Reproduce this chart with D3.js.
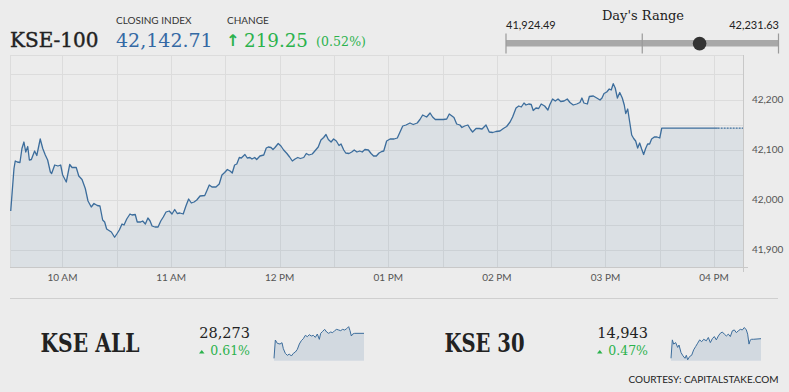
<!DOCTYPE html>
<html>
<head>
<meta charset="utf-8">
<script src="https://cdnjs.cloudflare.com/ajax/libs/d3/7.8.5/d3.min.js"></script>
<style>
  html, body { margin: 0; padding: 0; background: #ececec; }
  svg { display: block; }
  .serif { font-family: "DejaVu Serif", serif; }
  .sans { font-family: Lato, "Open Sans", sans-serif; }
</style>
</head>
<body>
<div id="chart"></div>
<script>
"use strict";

// --- DATA ---
// KSE-100 intraday, minutes after 09:30 and index value
const kseMin = [1.4, 3.2, 3.9, 5.0, 6.5, 7.6, 8.7, 9.7, 10.8, 11.7, 12.8, 14.6, 15.8, 17.7, 19.1, 20.5, 21.8, 23.3, 24.0, 25.7,
  27.5, 29.0, 30.1, 32.1, 34.0, 35.3, 37.6, 39.0, 40.8, 42.6, 44.1, 45.9, 47.4, 49.2, 50.7, 52.2, 53.3, 54.4, 57.0, 58.8,
  60.0, 61.4, 62.9, 64.0, 65.5, 67.3, 68.4, 70.2, 71.3, 73.2, 74.3, 75.8, 77.2, 78.4, 79.5, 81.1, 82.8, 84.3, 85.7, 87.2,
  89.0, 90.5, 92.0, 93.4, 94.9, 96.7, 98.2, 99.7, 101.2, 102.7, 104.2, 106.0, 108.6, 109.7, 111.1, 112.6, 114.8, 116.6, 118.1, 119.6,
  121.1, 122.6, 123.8, 125.1, 126.3, 127.7, 128.8, 130.8, 132.1, 133.6, 134.7, 136.2, 137.3, 139.1, 141.2, 142.6, 143.7, 145.2, 146.3, 147.4,
  149.2, 150.7, 152.2, 154.0, 155.5, 157.0, 158.5, 160.0, 161.4, 163.3, 164.7, 166.2, 168.0, 169.9, 171.3, 172.8, 174.3, 175.6, 176.9, 178.4,
  179.8, 181.3, 182.8, 183.9, 185.4, 186.5, 188.3, 189.8, 191.2, 192.7, 194.2, 195.6, 197.1, 199.0, 200.5, 201.9, 203.4, 204.9, 206.4, 207.5,
  209.1, 211.0, 213.2, 215.0, 216.5, 218.0, 219.8, 222.0, 223.8, 226.0, 227.5, 229.0, 231.2, 233.1, 234.5, 236.0, 238.2, 240.4, 242.3, 243.7,
  245.2, 246.3, 247.8, 249.6, 250.7, 252.2, 254.0, 255.5, 256.6, 258.5, 260.3, 261.8, 264.0, 265.8, 267.7, 269.5, 271.7, 273.6, 275.4, 277.3,
  278.7, 280.6, 282.1, 283.5, 285.0, 286.1, 287.6, 289.0, 290.1, 291.6, 293.1, 294.5, 296.4, 298.2, 299.3, 300.8, 302.3, 303.8, 305.3, 307.1,
  308.9, 310.4, 312.2, 314.1, 315.9, 317.0, 318.1, 320.0, 321.1, 323.3, 325.2, 327.0, 328.1, 329.2, 330.7, 332.1, 333.2, 334.3, 335.4, 336.6,
  337.9, 339.3, 340.4, 341.2, 342.3, 343.4, 344.5, 345.6, 346.7, 347.8, 348.9, 350.0, 351.1, 352.2, 353.3, 354.4, 355.5, 357.0, 358.5, 360.0,
  361.1, 392];
const kseVal = [41977, 42062, 42077, 42075, 42074, 42102, 42115, 42095, 42106, 42079, 42080, 42097, 42088, 42121, 42102, 42089, 42079, 42055, 42052, 42069,
  42067, 42069, 42049, 42035, 42070, 42064, 42064, 42047, 42040, 42022, 41997, 41985, 41992, 41988, 41987, 41959, 41955, 41941, 41935, 41924.49,
  41931, 41939, 41951, 41949, 41961, 41971, 41969, 41970, 41955, 41955, 41957, 41951, 41963, 41957, 41947, 41945, 41945, 41957, 41965, 41975,
  41977, 41971, 41980, 41972, 41973, 41971, 41987, 42001, 41993, 41995, 41999, 42007, 42008, 42017, 42029, 42025, 42025, 42031, 42049, 42054,
  42060, 42057, 42053, 42069, 42071, 42084, 42083, 42090, 42083, 42084, 42081, 42084, 42080, 42087, 42089, 42103, 42105, 42104, 42100, 42104,
  42112, 42107, 42099, 42092, 42085, 42077, 42081, 42084, 42082, 42084, 42092, 42089, 42091, 42099, 42105, 42119, 42124, 42130, 42120, 42115,
  42121, 42117, 42108, 42111, 42099, 42093, 42092, 42095, 42099, 42095, 42097, 42095, 42100, 42099, 42092, 42087, 42087, 42093, 42096, 42097,
  42117, 42121, 42121, 42123, 42135, 42147, 42149, 42153, 42150, 42153, 42160, 42169, 42165, 42173, 42165, 42160, 42160, 42160, 42161, 42171,
  42167, 42164, 42151, 42149, 42144, 42147, 42149, 42140, 42135, 42142, 42142, 42141, 42149, 42135, 42134, 42136, 42137, 42142, 42146, 42155,
  42165, 42183, 42187, 42185, 42193, 42189, 42191, 42190, 42178, 42183, 42182, 42191, 42187, 42179, 42190, 42201, 42197, 42201, 42196, 42197,
  42201, 42194, 42189, 42191, 42194, 42203, 42193, 42191, 42206, 42207, 42203, 42199, 42203, 42212, 42215, 42221, 42219, 42231.63, 42223, 42203,
  42214, 42203, 42189, 42172, 42181, 42155, 42129, 42122, 42117, 42103, 42113, 42101, 42090, 42102, 42111, 42111, 42121, 42125, 42125, 42123,
  42142.71, 42142.71];
// flat tail after the last trade (drawn dotted)
const tailMin = [392, 406];
const tailVal = [42142.71, 42142.71];

const yTicks = [41900, 41950, 42000, 42050, 42100, 42150, 42200, 42250];
const yLabels = [41900, 42000, 42100, 42200];

const header = { name: "KSE-100", close: "42,142.71", change: "219.25", pct: "(0.52%)" };
const dayRange = { low: 41924.49, high: 42231.63, close: 42142.71 };

// KSE ALL sparkline
const allMin = [1, 7, 16, 28, 37, 43, 52, 61, 70, 79, 88, 97, 106, 115, 124, 133, 142, 151, 160, 169, 178, 187, 196, 205, 211,
  220, 229, 238, 247, 256, 265, 274, 283, 292, 301, 310, 319, 328, 337, 343, 349, 355, 364, 406];
const allVal = [28123, 28233, 28213, 28209, 28217, 28181, 28153, 28141, 28149, 28137, 28153, 28161, 28177, 28209, 28229, 28241, 28261, 28253, 28265, 28257, 28261, 28249, 28269, 28237, 28273,
  28285, 28297, 28281, 28273, 28281, 28277, 28289, 28297, 28293, 28289, 28297, 28293, 28301, 28313, 28289, 28257, 28269, 28273, 28273];

// KSE 30 sparkline
const k30Min = [1, 7, 13, 22, 31, 37, 46, 55, 64, 70, 76, 85, 94, 103, 112, 121, 130, 139, 148, 160, 169, 178, 187, 196, 205,
  214, 223, 232, 241, 250, 259, 268, 277, 286, 295, 304, 313, 322, 331, 340, 346, 352, 358, 364, 373, 406];
const k30Val = [14878, 14939, 14925, 14930, 14914, 14922, 14897, 14886, 14878, 14888, 14873, 14884, 14888, 14906, 14917, 14928, 14939, 14933, 14941, 14936, 14947, 14930, 14943, 14950, 14939,
  14952, 14961, 14965, 14958, 14952, 14958, 14950, 14969, 14972, 14963, 14969, 14974, 14972, 14980, 14972, 14958, 14925, 14939, 14941, 14941, 14943];

const minis = [
  { name: "KSE ALL", value: "28,273", pct: "0.61%", mins: allMin, vals: allVal, domain: [28109, 28317] },
  { name: "KSE 30", value: "14,943", pct: "0.47%", mins: k30Min, vals: k30Val, domain: [14870, 14985] }
];

// --- LAYOUT ---
const W = 789, H = 392;
const P = { left: 10, right: 743, top: 55, bottom: 267 };
const C = { bg: "#ececec", grid: "#dcdcdc", axis: "#c8c8c8", line: "#3c6d9c", fill: "rgba(70,115,160,0.10)",
  text: "#222", label: "#555", blue: "#3469a4", green: "#2bb24c" };

const base = new Date(2019, 5, 3, 9, 30);
const toTime = m => new Date(base.getTime() + m * 60000);

const svg = d3.select("#chart").append("svg").attr("width", W).attr("height", H);
svg.append("rect").attr("width", W).attr("height", H).attr("fill", C.bg);

const x = d3.scaleTime().domain([toTime(1), toTime(406)]).range([P.left, P.right]);
const y = d3.scaleLinear().domain([41865, 42289]).range([P.bottom, P.top]);

// --- GRID ---
const grid = svg.append("g");
grid.selectAll(".hg").data(yTicks).enter().append("line")
  .attr("x1", P.left).attr("x2", P.right)
  .attr("y1", d => Math.round(y(d)) + 0.5).attr("y2", d => Math.round(y(d)) + 0.5)
  .attr("stroke", C.grid);

const halfHours = d3.timeMinute.every(30).range(toTime(30), toTime(407));
grid.selectAll(".vg").data(halfHours).enter().append("line")
  .attr("x1", d => Math.round(x(d)) + 0.5).attr("x2", d => Math.round(x(d)) + 0.5)
  .attr("y1", P.top).attr("y2", P.bottom)
  .attr("stroke", C.grid);

// frame
grid.append("line").attr("x1", P.left + 0.5).attr("x2", P.left + 0.5).attr("y1", P.top).attr("y2", P.bottom).attr("stroke", C.grid);
grid.append("line").attr("x1", P.left).attr("x2", P.right).attr("y1", P.top + 0.5).attr("y2", P.top + 0.5).attr("stroke", C.grid);
grid.append("line").attr("x1", P.left).attr("x2", P.right + 5).attr("y1", P.bottom + 0.5).attr("y2", P.bottom + 0.5).attr("stroke", C.axis);
grid.append("line").attr("x1", P.right + 0.5).attr("x2", P.right + 0.5).attr("y1", P.top).attr("y2", P.bottom + 5).attr("stroke", C.axis);

// --- SERIES ---
const pts = kseMin.map((m, i) => [toTime(m), kseVal[i]]);
const tail = tailMin.map((m, i) => [toTime(m), tailVal[i]]);
const area = d3.area().x(d => x(d[0])).y0(P.bottom).y1(d => y(d[1]));
const line = d3.line().x(d => x(d[0])).y(d => y(d[1]));

svg.append("path").attr("d", area(pts.concat(tail.slice(1)))).attr("fill", C.fill);
svg.append("path").attr("d", line(pts)).attr("fill", "none").attr("stroke", C.line).attr("stroke-width", 1.3).attr("stroke-linejoin", "round");
svg.append("path").attr("d", line(tail)).attr("fill", "none").attr("stroke", C.line).attr("stroke-width", 1.3).attr("stroke-dasharray", "2,1");

// --- AXES LABELS ---
const hours = d3.timeHour.every(1).range(toTime(30), toTime(407));
svg.selectAll(".xl").data(hours).enter().append("text")
  .attr("class", "sans").attr("x", d => x(d)).attr("y", 281)
  .attr("text-anchor", "middle").attr("font-size", 10).attr("fill", C.label)
  .text(d3.timeFormat("%I %p"));

svg.selectAll(".yl").data(yLabels).enter().append("text")
  .attr("class", "sans").attr("x", 752).attr("y", d => y(d) + 3.5)
  .attr("font-size", 10).attr("fill", C.label)
  .text(d3.format(","));

// --- HEADER ---
svg.append("text").attr("class", "serif").attr("x", 10).attr("y", 47)
  .attr("font-size", 20).attr("fill", C.text).attr("stroke", C.text).attr("stroke-width", 0.4).text(header.name);
svg.append("text").attr("class", "sans").attr("x", 116).attr("y", 24)
  .attr("font-size", 10).attr("fill", "#333").text("CLOSING INDEX");
svg.append("text").attr("class", "serif").attr("x", 116).attr("y", 47)
  .attr("font-size", 19).attr("fill", C.blue).text(header.close);
svg.append("text").attr("class", "sans").attr("x", 227).attr("y", 24)
  .attr("font-size", 10).attr("fill", "#333").text("CHANGE");
svg.append("text").attr("x", 226).attr("y", 46)
  .attr("font-family", "DejaVu Sans").attr("font-weight", "bold").attr("font-size", 16).attr("fill", C.green).text("↑");
svg.append("text").attr("class", "serif").attr("x", 244).attr("y", 47)
  .attr("font-size", 19).attr("textLength", 64).attr("lengthAdjust", "spacingAndGlyphs")
  .attr("fill", C.green).text(header.change);
svg.append("text").attr("class", "serif").attr("x", 316).attr("y", 46)
  .attr("font-size", 12.5).attr("textLength", 50).attr("fill", C.green).text(header.pct);

// --- DAY'S RANGE ---
const r = d3.scaleLinear().domain([dayRange.low, dayRange.high]).range([506, 778.5]);
const rg = svg.append("g");
rg.append("text").attr("class", "serif").attr("x", 643).attr("y", 20).attr("text-anchor", "middle")
  .attr("font-size", 13).attr("fill", C.text).text("Day's Range");
rg.append("text").attr("class", "sans").attr("x", 506).attr("y", 28.5)
  .attr("font-size", 11).attr("fill", C.text).text(d3.format(",.2f")(dayRange.low));
rg.append("text").attr("class", "sans").attr("x", 779).attr("y", 28.5).attr("text-anchor", "end")
  .attr("font-size", 11).attr("fill", C.text).text(d3.format(",.2f")(dayRange.high));
rg.append("line").attr("x1", r(dayRange.low)).attr("x2", r(dayRange.high)).attr("y1", 43.3).attr("y2", 43.3)
  .attr("stroke", "#a8a8a8").attr("stroke-width", 6.5);
rg.selectAll(".rt").data([dayRange.low, (dayRange.low + dayRange.high) / 2, dayRange.high]).enter().append("line")
  .attr("x1", d => r(d)).attr("x2", d => r(d)).attr("y1", 33.5).attr("y2", 53.5)
  .attr("stroke", "#9a9a9a").attr("stroke-width", 1.2);
rg.append("circle").attr("cx", r(dayRange.close)).attr("cy", 43.6).attr("r", 6.8).attr("fill", "#333");

// --- BOTTOM ROW ---
svg.append("line").attr("x1", 10).attr("x2", 778).attr("y1", 298.5).attr("y2", 298.5).attr("stroke", "#cfcfcf");

const miniX = [
  { name: 40.5, nameW: 99, val: 250, spark: [274, 364] },
  { name: 444.5, nameW: 80, val: 648, spark: [671, 761] }
];

minis.forEach((mi, i) => {
  const L = miniX[i];
  const g = svg.append("g");
  g.append("text").attr("x", L.name).attr("y", 351.5)
    .attr("font-family", "DejaVu Serif").attr("font-weight", "bold").attr("font-size", 26)
    .attr("textLength", L.nameW).attr("lengthAdjust", "spacingAndGlyphs")
    .attr("fill", C.text).text(mi.name);
  g.append("text").attr("class", "serif").attr("x", L.val).attr("y", 338.3).attr("text-anchor", "end")
    .attr("font-size", 14.5).attr("fill", C.text).text(mi.value);
  g.append("text").attr("class", "serif").attr("x", L.val).attr("y", 355).attr("text-anchor", "end")
    .attr("font-size", 12.5).attr("fill", C.green).text(mi.pct);
  const tx = L.val - 51;
  g.append("path").attr("d", `M${tx},353.5 L${tx + 5.5},353.5 L${tx + 2.75},350 Z`).attr("fill", C.green);

  const sx = d3.scaleTime().domain([toTime(1), toTime(406)]).range(L.spark);
  const sy = d3.scaleLinear().domain(mi.domain).range([360.7, 326]);
  const sp = mi.mins.map((m, j) => [toTime(m), mi.vals[j]]);
  g.append("path").attr("d", d3.area().x(d => sx(d[0])).y0(360.7).y1(d => sy(d[1]))(sp)).attr("fill", "rgba(70,115,160,0.15)");
  g.append("path").attr("d", d3.line().x(d => sx(d[0])).y(d => sy(d[1]))(sp))
    .attr("fill", "none").attr("stroke", C.line).attr("stroke-width", 1);
});

svg.append("text").attr("class", "sans").attr("x", 778.5).attr("y", 383.3).attr("text-anchor", "end")
  .attr("font-size", 10).attr("textLength", 150).attr("fill", C.text).text("COURTESY: CAPITALSTAKE.COM");
</script>
</body>
</html>
